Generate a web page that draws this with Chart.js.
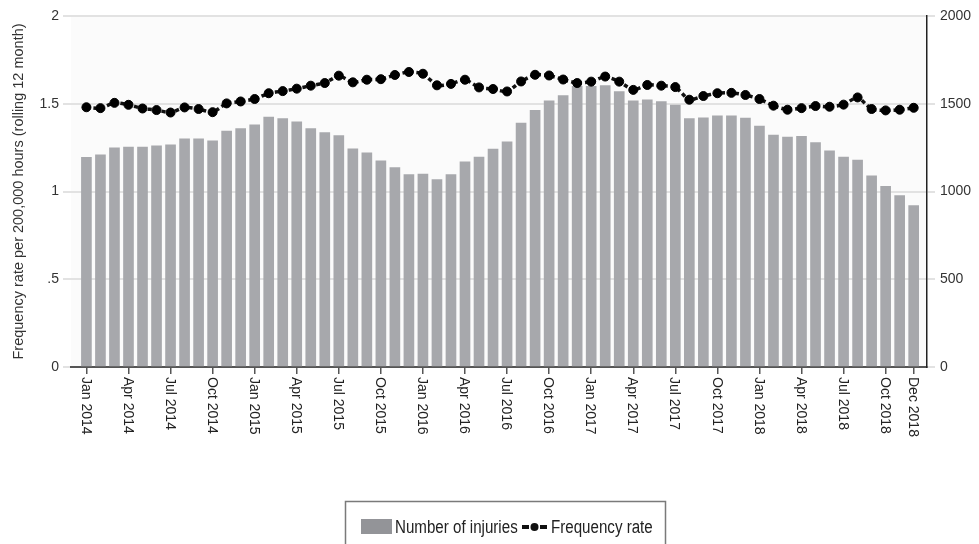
<!DOCTYPE html>
<html>
<head>
<meta charset="utf-8">
<script src="https://cdn.jsdelivr.net/npm/chart.js@4/dist/chart.umd.min.js"></script>
<style>
  html, body { margin: 0; padding: 0; background: #fff; }
  #wrap { width: 979px; height: 544px; overflow: hidden; }
</style>
</head>
<body>
<div id="wrap"><canvas id="myChart" width="979" height="544"></canvas></div>
<script>
// month labels, Jan 2014 .. Dec 2018
const years = [2014, 2015, 2016, 2017, 2018];
const monthNames = ['Jan', 'Feb', 'Mar', 'Apr', 'May', 'Jun', 'Jul', 'Aug', 'Sep', 'Oct', 'Nov', 'Dec'];
const months = [];
years.forEach(y => monthNames.forEach(m => months.push(m + ' ' + y)));

// which months get a label / tick mark
const tickIndex = [0, 3, 6, 9, 12, 15, 18, 21, 24, 27, 30, 33, 36, 39, 42, 45, 48, 51, 54, 57, 59];

// number of injuries (right axis)
const injuries = [
    1195, 1209, 1249, 1253, 1253, 1260, 1266, 1300, 1300, 1289,
    1344, 1359, 1380, 1424, 1416, 1397, 1359, 1336, 1319, 1243,
    1221, 1175, 1137, 1097, 1099, 1068, 1097, 1169, 1196, 1241,
    1283, 1390, 1462, 1517, 1547, 1599, 1599, 1603, 1570, 1517,
    1523, 1513, 1492, 1416, 1420, 1431, 1431, 1418, 1373, 1322,
    1310, 1314, 1279, 1232, 1196, 1179, 1090, 1029, 977, 920
];

// frequency rate, rolling 12 month (left axis)
const freqRate = [
    1.480, 1.475, 1.505, 1.494, 1.473, 1.464, 1.450, 1.479, 1.470, 1.452,
    1.502, 1.513, 1.527, 1.560, 1.572, 1.586, 1.603, 1.618, 1.660, 1.622,
    1.637, 1.640, 1.664, 1.681, 1.671, 1.605, 1.613, 1.637, 1.593, 1.584,
    1.570, 1.627, 1.665, 1.661, 1.638, 1.618, 1.626, 1.655, 1.626, 1.579,
    1.607, 1.603, 1.595, 1.523, 1.544, 1.560, 1.562, 1.550, 1.527, 1.489,
    1.466, 1.475, 1.487, 1.483, 1.495, 1.536, 1.470, 1.462, 1.466, 1.477
];

const leftTicks = [0, 0.5, 1, 1.5, 2];
const leftTickText = ['0', '.5', '1', '1.5', '2'];
const rightTicks = [0, 500, 1000, 1500, 2000];

const FONT = "'Liberation Sans', Arial, sans-serif";
Chart.defaults.font.family = FONT;
Chart.defaults.color = '#333';

const barColor = '#a7a8ac';
const gridColor = '#e2e2e2';

// light plot background
const plotBg = {
    id: 'plotBg',
    beforeDraw(chart) {
        const a = chart.chartArea;
        const ctx = chart.ctx;
        ctx.save();
        ctx.fillStyle = '#fbfbfb';
        ctx.fillRect(a.left, a.top, a.right - a.left, a.bottom - a.top);
        ctx.restore();
    }
};

// x labels read top to bottom, plus the boxed legend
const extras = {
    id: 'extras',
    afterDraw(chart) {
        const ctx = chart.ctx;
        const xs = chart.scales.x;
        ctx.save();
        ctx.fillStyle = '#222';
        ctx.font = '14px ' + FONT;
        ctx.textAlign = 'left';
        ctx.textBaseline = 'middle';
        tickIndex.forEach(i => {
            const x = xs.getPixelForValue(i);
            ctx.save();
            ctx.translate(x - 1, 377);
            ctx.rotate(Math.PI / 2);
            ctx.fillText(months[i], 0, 0);
            ctx.restore();
        });

        // legend box, runs off the bottom edge
        ctx.strokeStyle = '#7a7a7a';
        ctx.lineWidth = 1.5;
        ctx.beginPath();
        ctx.moveTo(345.5, 560);
        ctx.lineTo(345.5, 501.5);
        ctx.lineTo(665.5, 501.5);
        ctx.lineTo(665.5, 560);
        ctx.stroke();

        ctx.fillStyle = '#939498';
        ctx.fillRect(361, 519, 31, 15);

        ctx.fillStyle = '#222';
        ctx.font = '18px ' + FONT;
        ctx.textBaseline = 'alphabetic';
        ctx.save();
        ctx.translate(395, 533);
        ctx.scale(0.84, 1);
        ctx.fillText('Number of injuries', 0, 0);
        ctx.restore();

        ctx.strokeStyle = '#111';
        ctx.lineWidth = 4;
        ctx.beginPath();
        ctx.moveTo(522, 527); ctx.lineTo(529, 527);
        ctx.moveTo(540, 527); ctx.lineTo(547, 527);
        ctx.stroke();
        ctx.fillStyle = '#111';
        ctx.beginPath();
        ctx.arc(534.5, 527, 4, 0, Math.PI * 2);
        ctx.fill();

        ctx.fillStyle = '#222';
        ctx.save();
        ctx.translate(551, 533);
        ctx.scale(0.84, 1);
        ctx.fillText('Frequency rate', 0, 0);
        ctx.restore();
        ctx.restore();
    }
};

const myChart = new Chart(
    document.getElementById('myChart'),
    {
        data: {
            datasets: [
                {
                    type: 'line',
                    label: 'Frequency rate',
                    data: freqRate.map((v, i) => ({x: i, y: v})),
                    yAxisID: 'yL',
                    borderColor: '#111',
                    borderWidth: 3.5,
                    borderDash: [4, 3],
                    pointRadius: 4.5,
                    pointBackgroundColor: '#000',
                    pointBorderColor: '#000',
                    pointBorderWidth: 1,
                    tension: 0.2,
                    order: 0
                },
                {
                    type: 'bar',
                    label: 'Number of injuries',
                    data: injuries.map((v, i) => ({x: i, y: v})),
                    yAxisID: 'yR',
                    backgroundColor: barColor,
                    barThickness: 10,
                    order: 1
                }
            ]
        },
        options: {
            responsive: false,
            animation: false,
            layout: {padding: {top: 16, left: 0, right: 0, bottom: 0}},
            plugins: {
                legend: {display: false},
                tooltip: {enabled: false}
            },
            scales: {
                x: {
                    type: 'linear',
                    offset: false,
                    min: -1.1,
                    max: 59.95,
                    afterBuildTicks: scale => {
                        scale.ticks = tickIndex.map(v => ({value: v}));
                    },
                    afterFit: scale => { scale.height = 177; },
                    ticks: {display: false},
                    grid: {offset: false, drawOnChartArea: false, tickLength: 7, color: '#555', lineWidth: 1.5},
                    border: {display: true, color: '#555', width: 2}
                },
                yL: {
                    type: 'linear',
                    position: 'left',
                    min: 0,
                    max: 2,
                    afterBuildTicks: scale => {
                        scale.ticks = leftTicks.map(v => ({value: v}));
                    },
                    afterFit: scale => { scale.width = 71; },
                    ticks: {
                        font: {size: 14},
                        color: '#333',
                        padding: 4,
                        callback: (v) => leftTickText[leftTicks.indexOf(v)]
                    },
                    grid: {color: gridColor, lineWidth: 2, tickLength: 8},
                    border: {display: false},
                    title: {
                        display: true,
                        text: 'Frequency rate per 200,000 hours (rolling 12 month)',
                        font: {size: 14.5},
                        color: '#333',
                        padding: {top: 10, bottom: 0}
                    }
                },
                yR: {
                    type: 'linear',
                    position: 'right',
                    min: 0,
                    max: 2000,
                    afterBuildTicks: scale => {
                        scale.ticks = rightTicks.map(v => ({value: v}));
                    },
                    afterFit: scale => { scale.width = 52; },
                    ticks: {font: {size: 14}, color: '#333', padding: 5, callback: v => String(v)},
                    grid: {drawOnChartArea: false, color: gridColor, lineWidth: 2, tickLength: 8},
                    border: {display: true, color: '#222', width: 1.5}
                }
            }
        },
        plugins: [plotBg, extras]
    }
);
</script>
</body>
</html>
